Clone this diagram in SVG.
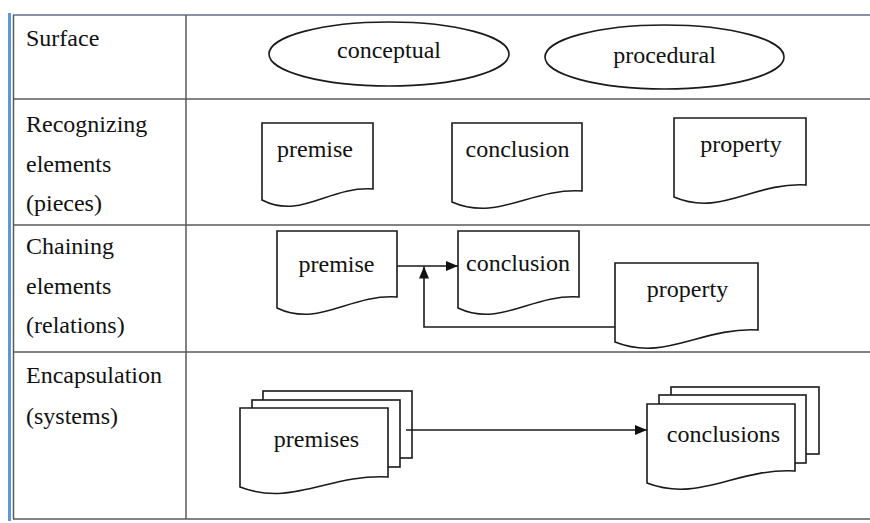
<svg xmlns="http://www.w3.org/2000/svg" width="870" height="523" viewBox="0 0 870 523">
<style>
.grid{stroke:#5a5a5a;stroke-width:1.5;fill:none}
.doc{fill:#fff;stroke:#1a1a1a;stroke-width:1.6}
.lbl{font-family:'Times New Roman',Times,'Liberation Serif',Tinos,'Noto Serif','DejaVu Serif',FreeSerif,serif;font-size:24px;fill:#111}
.c{text-anchor:middle}
.conn{fill:none;stroke:#1a1a1a;stroke-width:1.6}
</style>
<defs>
<marker id="arr" markerUnits="userSpaceOnUse" markerWidth="13" markerHeight="11" refX="12" refY="5" orient="auto">
<path d="M0,0 L12,5 L0,10 Z" fill="#111"/>
</marker>
</defs>
<rect width="870" height="523" fill="#fff"/>
<g id="table">
<line x1="9.5" y1="13" x2="9.5" y2="521" stroke="#5b9bd5" stroke-width="3"/>
<line x1="13" y1="15" x2="870" y2="15" stroke="#8a93a3" stroke-width="1.8"/>
<line class="grid" x1="13.5" y1="15" x2="13.5" y2="519" stroke="#333"/>
<line class="grid" x1="186" y1="15" x2="186" y2="519"/>
<line class="grid" x1="13" y1="99" x2="870" y2="99"/>
<line class="grid" x1="13" y1="225" x2="870" y2="225"/>
<line class="grid" x1="13" y1="352" x2="870" y2="352"/>
<line class="grid" x1="13" y1="519" x2="870" y2="519" stroke="#777"/>
</g>
<g id="row-labels">
<text class="lbl" x="26" y="46">Surface</text>
<text class="lbl" x="26" y="132">Recognizing</text>
<text class="lbl" x="26" y="172">elements</text>
<text class="lbl" x="26" y="211">(pieces)</text>
<text class="lbl" x="26" y="254">Chaining</text>
<text class="lbl" x="26" y="294">elements</text>
<text class="lbl" x="26" y="333">(relations)</text>
<text class="lbl" x="26" y="383">Encapsulation</text>
<text class="lbl" x="26" y="424">(systems)</text>
</g>
<g id="conceptual">
<ellipse class="doc" cx="389" cy="54" rx="120" ry="32"/>
<text class="lbl c" x="389" y="58">conceptual</text>
</g>
<g id="procedural">
<ellipse class="doc" cx="664.5" cy="57" rx="119.5" ry="32"/>
<text class="lbl c" x="664.5" y="63">procedural</text>
</g>
<g id="premise-1">
<path class="doc" d="M262,123 H373 V189 C328.6,186 300.9,220 262,200 Z"/>
<text class="lbl c" x="315" y="157">premise</text>
</g>
<g id="conclusion-1">
<path class="doc" d="M452,123 H582 V191 C530,188 497.5,222 452,202 Z"/>
<text class="lbl c" x="517.5" y="157">conclusion</text>
</g>
<g id="property-1">
<path class="doc" d="M674,118 H806 V185 C753.2,182 720.2,217 674,197 Z"/>
<text class="lbl c" x="741" y="152">property</text>
</g>
<g id="premise-2">
<path class="doc" d="M277,231 H397 V297 C349,294 319,328 277,308 Z"/>
<text class="lbl c" x="336.5" y="272">premise</text>
</g>
<g id="conclusion-2">
<path class="doc" d="M458,231 H579 V297 C530.6,294 500.4,328 458,308 Z"/>
<text class="lbl c" x="518" y="271">conclusion</text>
</g>
<g id="property-2">
<path class="doc" d="M615,263 H758 V330 C700.8,327 665,362 615,342 Z"/>
<text class="lbl c" x="687.5" y="297">property</text>
</g>
<g id="premises">
<rect class="doc" x="263" y="391" width="149" height="67"/>
<rect class="doc" x="252" y="400" width="148" height="67"/>
<path class="doc" d="M240,408 H388 V477 C328.8,474 291.8,507 240,487 Z"/>
<text class="lbl c" x="316.5" y="447">premises</text>
</g>
<g id="conclusions">
<rect class="doc" x="671" y="387" width="148" height="67"/>
<rect class="doc" x="659" y="395" width="147" height="68"/>
<path class="doc" d="M647,404 H795 V471 C735.8,468 698.8,503 647,483 Z"/>
<text class="lbl c" x="723.5" y="442">conclusions</text>
</g>
<g id="connectors">
<line class="conn" x1="397" y1="266" x2="458" y2="266" marker-end="url(#arr)"/>
<path class="conn" d="M615,327 H424 V266.5" marker-end="url(#arr)"/>
<line class="conn" x1="406" y1="430" x2="647" y2="430" marker-end="url(#arr)"/>
</g>
</svg>
